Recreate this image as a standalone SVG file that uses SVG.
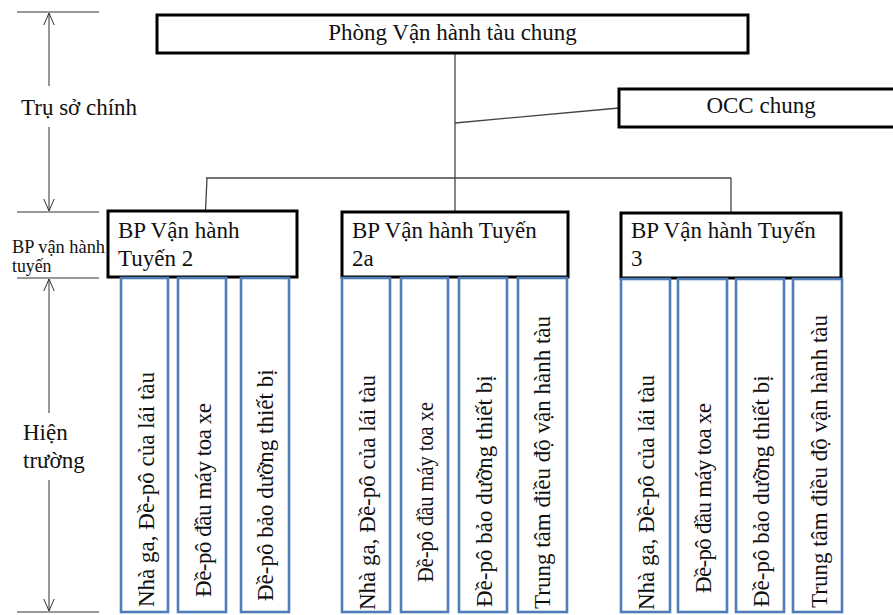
<svg xmlns="http://www.w3.org/2000/svg" width="893" height="615" viewBox="0 0 893 615">
  <style>
    text { font-family: "Liberation Serif", "Times New Roman", serif; fill: #111; }
    .t { font-size: 23px; }
    .s { font-size: 17.8px; }
    .unit { fill: #fff; stroke: #000; stroke-width: 3; }
    .sub { fill: #fff; stroke: #4f7db9; stroke-width: 2.6; }
    .link { fill: none; stroke: #444; stroke-width: 1.3; }
    .dim { fill: none; stroke: #333; stroke-width: 1; }
  </style>
  <defs>
    <marker id="tip" viewBox="0 0 12 12" refX="12" refY="6" markerWidth="12" markerHeight="12" markerUnits="userSpaceOnUse" orient="auto">
      <path d="M0,0.8 L12,6 L0,11.2" fill="none" stroke="#333" stroke-width="1"/>
    </marker>
  </defs>
  <rect width="893" height="615" fill="#fff"/>

  <!-- level scale on the left -->
  <g id="scale">
    <path class="dim" d="M17,12 H99 M17,212 H99 M17,278 H99 M17,612 H99"/>
    <path class="dim" d="M49,86 V13" marker-end="url(#tip)"/>
    <path class="dim" d="M49,127 V211" marker-end="url(#tip)"/>
    <path class="dim" d="M49,413 V279" marker-end="url(#tip)"/>
    <path class="dim" d="M49,480 V611" marker-end="url(#tip)"/>
    <text class="t" x="21" y="115">Trụ sở chính</text>
    <text class="s" x="12" y="253" textLength="93" lengthAdjust="spacingAndGlyphs">BP vận hành</text>
    <text class="s" x="12" y="272">tuyến</text>
    <text class="t" x="23" y="440">Hiện</text>
    <text class="t" x="23" y="468">trường</text>
  </g>

  <!-- connectors -->
  <g id="connectors">
    <path class="link" d="M455,53 V178"/>
    <path class="link" d="M455,123 L619,108"/>
    <path class="link" d="M206,178 H731"/>
    <path class="link" d="M207,178 L205.5,211"/>
    <path class="link" d="M455,178 V212"/>
    <path class="link" d="M731,178 V213"/>
  </g>

  <g id="phong-van-hanh">
    <rect class="unit" x="157" y="15" width="591" height="38"/>
    <text class="t" x="452.5" y="40" text-anchor="middle">Phòng Vận hành tàu chung</text>
  </g>

  <g id="occ-chung">
    <rect class="unit" x="619" y="89" width="290" height="38"/>
    <text class="t" x="761" y="113" text-anchor="middle">OCC chung</text>
  </g>

  <!-- line 2 -->
  <g id="tuyen-2">
    <rect class="unit" x="108" y="211" width="189" height="66"/>
    <text class="t" x="118" y="238">BP Vận hành</text>
    <text class="t" x="118" y="266">Tuyến 2</text>
  </g>
  <g id="t2-nha-ga">
    <rect class="sub" x="121" y="278" width="47" height="334"/>
    <text class="t" transform="translate(154,607) rotate(-90)">Nhà ga,  Đề-pô của lái tàu</text>
  </g>
  <g id="t2-depo-dau-may">
    <rect class="sub" x="178" y="278" width="48" height="334"/>
    <text class="t" transform="translate(211,597) rotate(-90)" textLength="194" lengthAdjust="spacing">Đề-pô đầu máy toa xe</text>
  </g>
  <g id="t2-depo-bao-duong">
    <rect class="sub" x="241" y="278" width="48" height="334"/>
    <text class="t" transform="translate(273,601) rotate(-90)">Đề-pô bảo dưỡng thiết bị</text>
  </g>

  <!-- line 2a -->
  <g id="tuyen-2a">
    <rect class="unit" x="342" y="212" width="226" height="65"/>
    <text class="t" x="352" y="238">BP Vận hành Tuyến</text>
    <text class="t" x="352" y="266">2a</text>
  </g>
  <g id="t2a-nha-ga">
    <rect class="sub" x="342" y="278" width="48" height="334"/>
    <text class="t" transform="translate(375,610) rotate(-90)">Nhà ga,  Đề-pô của lái tàu</text>
  </g>
  <g id="t2a-depo-dau-may">
    <rect class="sub" x="401" y="278" width="47" height="334"/>
    <text class="t" transform="translate(433,582) rotate(-90)" textLength="180" lengthAdjust="spacingAndGlyphs">Đề-pô đầu máy toa xe</text>
  </g>
  <g id="t2a-depo-bao-duong">
    <rect class="sub" x="459" y="278" width="48" height="334"/>
    <text class="t" transform="translate(492,607) rotate(-90)">Đề-pô bảo dưỡng thiết bị</text>
  </g>
  <g id="t2a-trung-tam">
    <rect class="sub" x="518" y="278" width="49" height="334"/>
    <text class="t" transform="translate(550,609) rotate(-90)">Trung tâm điều độ vận hành tàu</text>
  </g>

  <!-- line 3 -->
  <g id="tuyen-3">
    <rect class="unit" x="621" y="213" width="220" height="65"/>
    <text class="t" x="631" y="238">BP Vận hành Tuyến</text>
    <text class="t" x="631" y="266">3</text>
  </g>
  <g id="t3-nha-ga">
    <rect class="sub" x="621" y="279" width="49" height="333"/>
    <text class="t" transform="translate(654,610) rotate(-90)">Nhà ga,  Đề-pô của lái tàu</text>
  </g>
  <g id="t3-depo-dau-may">
    <rect class="sub" x="678" y="279" width="49" height="333"/>
    <text class="t" transform="translate(711,593) rotate(-90)" textLength="190" lengthAdjust="spacing">Đề-pô đầu máy toa xe</text>
  </g>
  <g id="t3-depo-bao-duong">
    <rect class="sub" x="736" y="279" width="48" height="333"/>
    <text class="t" transform="translate(769,607) rotate(-90)">Đề-pô bảo dưỡng thiết bị</text>
  </g>
  <g id="t3-trung-tam">
    <rect class="sub" x="793" y="279" width="49" height="333"/>
    <text class="t" transform="translate(827,608) rotate(-90)">Trung tâm điều độ vận hành tàu</text>
  </g>
</svg>
